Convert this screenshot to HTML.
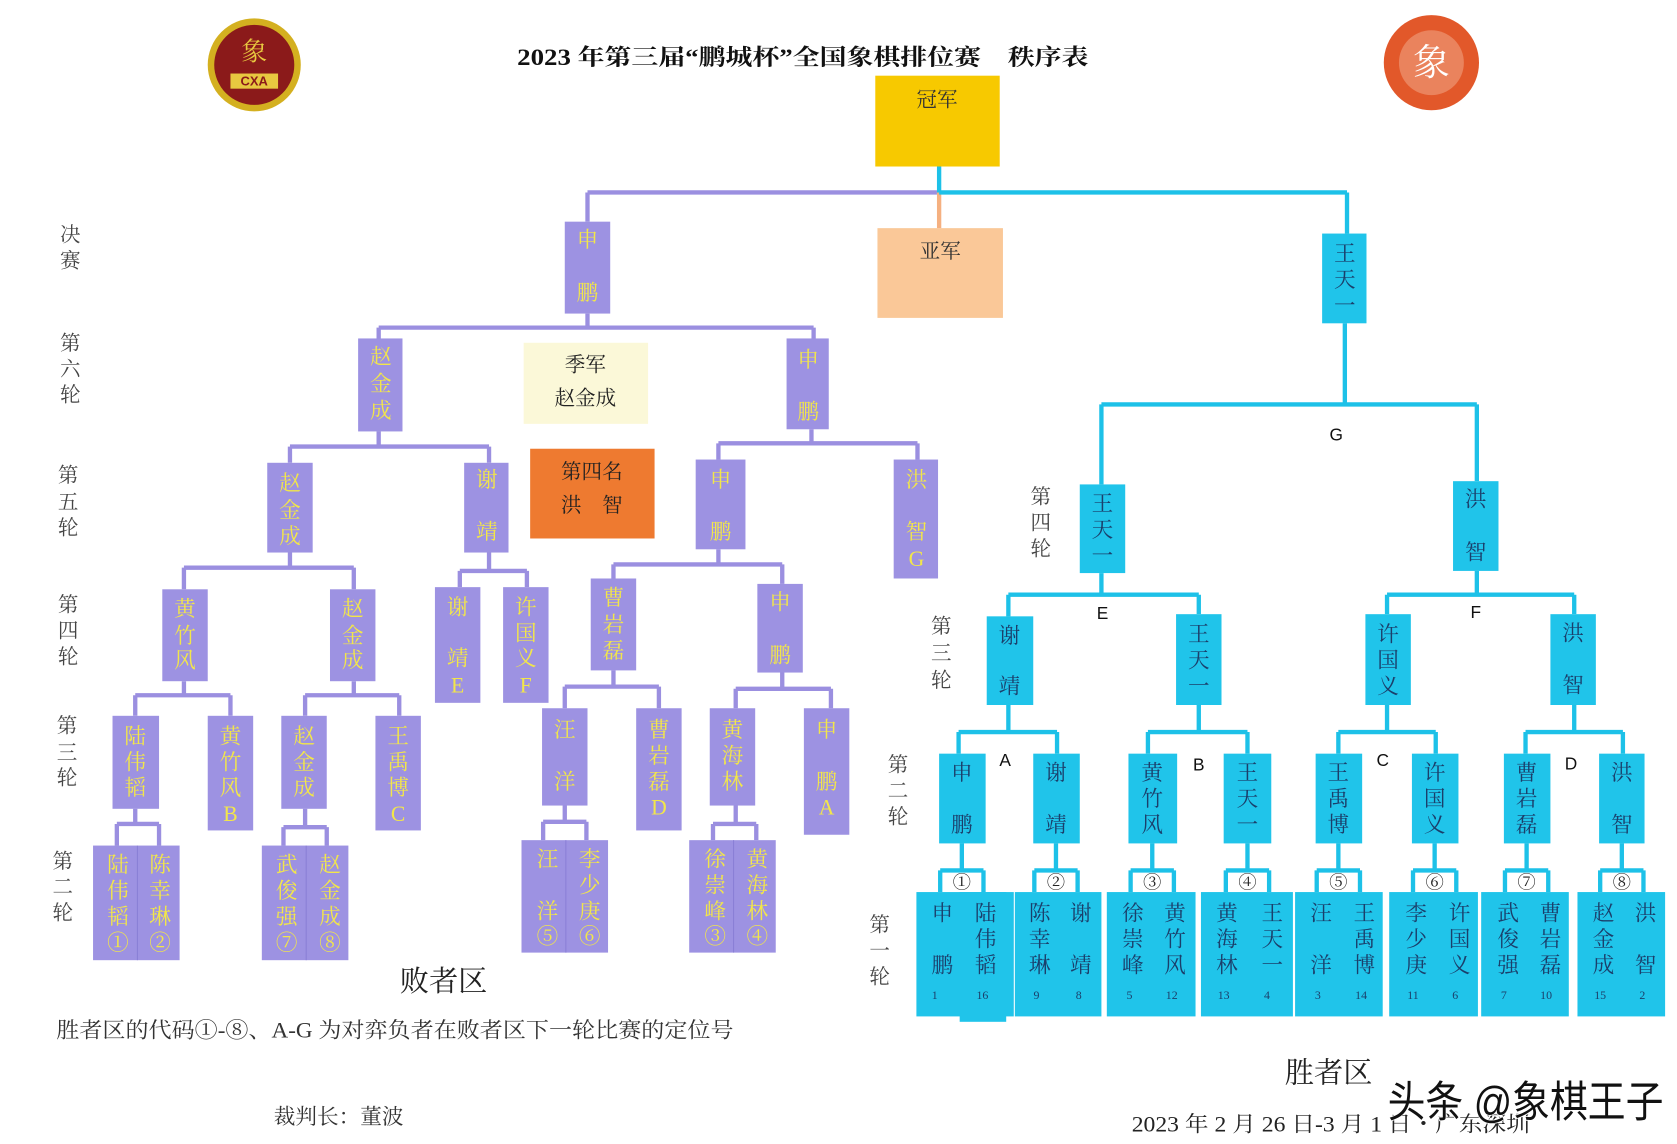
<!DOCTYPE html>
<html><head><meta charset="utf-8"><style>
html,body{margin:0;padding:0;background:#fff;}
svg{display:block}
text{font-family:"Liberation Serif","Noto Serif CJK SC","Noto Sans CJK SC",serif;text-anchor:middle;dominant-baseline:central}
.p{fill:#f2e64a;font-size:20px}
.c{fill:#1b3f6b;font-size:20px}
.n{fill:#1b3f6b;font-size:11px}
.l{fill:#444;font-size:19px}
.k{fill:#111;font-size:16px;font-family:"Liberation Sans","Noto Sans CJK SC",sans-serif}
.pl{stroke:#9b8fe0;stroke-width:4;fill:none}
.cl{stroke:#1dc1e8;stroke-width:4;fill:none}
.pb{fill:#9d92e2}
.cb{fill:#20c4ea}
</style></head><body>
<svg width="1677" height="1144" viewBox="0 0 1550 1058" preserveAspectRatio="none" xmlns="http://www.w3.org/2000/svg">
<!-- logos -->
<circle cx="235" cy="60" r="43" fill="#d4b020"/>
<circle cx="235" cy="60" r="37" fill="#8b1a1a"/>
<text x="235" y="48" style="fill:#e8c840;font-size:24px">象</text>
<rect x="213" y="68" width="44" height="14" fill="#e8c840"/>
<text x="235" y="75" style="fill:#8b1a1a;font-size:12px;font-family:'Liberation Sans',sans-serif;font-weight:bold">CXA</text>
<circle cx="1323" cy="58" r="44" fill="#e2582a"/>
<circle cx="1323" cy="58" r="30" fill="#f0a080" opacity="0.6"/>
<text x="1323" y="58" style="fill:#fff;font-size:34px">象</text>
<text x="742" y="53" textLength="528" lengthAdjust="spacingAndGlyphs" style="font-size:21px;font-weight:bold;fill:#111">2023 年第三届“鹏城杯”全国象棋排位赛　秩序表</text>

<!-- top boxes -->
<rect x="809" y="70" width="115" height="84" fill="#f7c900"/>
<text x="866" y="93" style="font-size:19px;fill:#333">冠军</text>
<rect x="811" y="211" width="116" height="83" fill="#fac898"/>
<text x="869" y="233" style="font-size:19px;fill:#333">亚军</text>
<rect x="484" y="317" width="115" height="75" fill="#fbf8d8"/>
<text x="541" y="338" style="font-size:19px;fill:#222">季军</text>
<text x="541" y="369" style="font-size:19px;fill:#222">赵金成</text>
<rect x="490" y="415" width="115" height="83" fill="#ee7a30"/>
<text x="547" y="437" style="font-size:19px;fill:#222">第四名</text>
<text x="547" y="468" style="font-size:19px;fill:#222">洪　智</text>

<!-- purple lines -->
<path class="pl" d="M543 178H866M543 178V205M543 290V303M350 303H752M350 303V313M752 303V313
M350 399V413M268 413H452M268 413V428M452 413V428M750 397V410M664 410H848M664 410V425M848 410V425
M268 511V525M170 525H327M170 525V545M327 525V545M452 511V528M425 528H487M425 528V543M487 528V543
M664 508V522M567 522H723M567 522V535M723 522V540
M170 630V643M125 643H213M125 643V662M213 643V662M327 630V643M282 643H369M282 643V662M369 643V662
M567 620V635M522 635H609M522 635V655M609 635V655M723 622V637M680 637H768M680 637V655M768 637V655
M125 748V762M108 762H147M108 762V782M147 762V782M282 748V765M262 765H302M262 765V782M302 765V782
M522 745V760M502 760H542M502 760V777M542 760V777M680 745V762M659 762H699M659 762V777M699 762V777"/>
<path d="M868 178V211" stroke="#f5b080" stroke-width="4"/>
<!-- cyan lines -->
<path class="cl" d="M868 154V178M868 178H1245M1245 178V216M1243 299V374M1018 374H1365M1018 374V448M1365 374V445
M1018 530V550M932 550H1108M932 550V570M1108 550V568M1365 528V550M1282 550H1455M1282 550V568M1455 550V568
M932 652V677M886 677H977M886 677V697M977 677V697M1108 652V677M1061 677H1153M1061 677V697M1153 677V697
M1282 652V677M1237 677H1327M1237 677V697M1327 677V697M1455 652V677M1410 677H1500M1410 677V697M1500 677V697
M889 780V805M869 805H909M869 805V825M909 805V825
M976 780V805M956 805H996M956 805V825M996 805V825
M1065 780V805M1045 805H1085M1045 805V825M1085 805V825
M1153 780V805M1133 805H1173M1133 805V825M1173 805V825
M1237 780V805M1217 805H1257M1217 805V825M1257 805V825
M1326 780V805M1306 805H1346M1306 805V825M1346 805V825
M1411 780V805M1391 805H1431M1391 805V825M1431 805V825
M1499 780V805M1479 805H1519M1479 805V825M1519 805V825"/>
<g style="fill:#222">
<text x="889" y="816" style="font-size:17px">①</text><text x="976" y="816" style="font-size:17px">②</text>
<text x="1065" y="816" style="font-size:17px">③</text><text x="1153" y="816" style="font-size:17px">④</text>
<text x="1237" y="816" style="font-size:17px">⑤</text><text x="1326" y="816" style="font-size:17px">⑥</text>
<text x="1411" y="816" style="font-size:17px">⑦</text><text x="1499" y="816" style="font-size:17px">⑧</text>
</g>

<!-- purple boxes -->
<rect class="pb" x="522" y="205" width="42" height="85"/><text class="p" x="543" y="222">申</text><text class="p" x="543" y="271">鹏</text>
<rect class="pb" x="331" y="313" width="41" height="86"/><text class="p" x="352" y="330">赵</text><text class="p" x="352" y="355">金</text><text class="p" x="352" y="380">成</text>
<rect class="pb" x="727" y="313" width="39" height="84"/><text class="p" x="747" y="333">申</text><text class="p" x="747" y="381">鹏</text>
<rect class="pb" x="247" y="428" width="42" height="83"/><text class="p" x="268" y="447">赵</text><text class="p" x="268" y="472">金</text><text class="p" x="268" y="496">成</text>
<rect class="pb" x="429" y="428" width="41" height="83"/><text class="p" x="450" y="444">谢</text><text class="p" x="450" y="492">靖</text>
<rect class="pb" x="643" y="425" width="46" height="83"/><text class="p" x="666" y="444">申</text><text class="p" x="666" y="492">鹏</text>
<rect class="pb" x="826" y="425" width="41" height="110"/><text class="p" x="847" y="444">洪</text><text class="p" x="847" y="492">智</text><text class="p" x="847" y="517">G</text>
<rect class="pb" x="150" y="545" width="42" height="85"/><text class="p" x="171" y="563">黄</text><text class="p" x="171" y="588">竹</text><text class="p" x="171" y="611">风</text>
<rect class="pb" x="305" y="545" width="42" height="85"/><text class="p" x="326" y="563">赵</text><text class="p" x="326" y="588">金</text><text class="p" x="326" y="611">成</text>
<rect class="pb" x="402" y="543" width="42" height="107"/><text class="p" x="423" y="562">谢</text><text class="p" x="423" y="609">靖</text><text class="p" x="423" y="634">E</text>
<rect class="pb" x="465" y="543" width="42" height="107"/><text class="p" x="486" y="562">许</text><text class="p" x="486" y="586">国</text><text class="p" x="486" y="609">义</text><text class="p" x="486" y="634">F</text>
<rect class="pb" x="546" y="535" width="42" height="85"/><text class="p" x="567" y="553">曹</text><text class="p" x="567" y="578">岩</text><text class="p" x="567" y="602">磊</text>
<rect class="pb" x="700" y="540" width="42" height="82"/><text class="p" x="721" y="557">申</text><text class="p" x="721" y="606">鹏</text>
<rect class="pb" x="104" y="662" width="43" height="86"/><text class="p" x="125" y="681">陆</text><text class="p" x="125" y="705">伟</text><text class="p" x="125" y="729">韬</text>
<rect class="pb" x="192" y="662" width="42" height="106"/><text class="p" x="213" y="681">黄</text><text class="p" x="213" y="705">竹</text><text class="p" x="213" y="729">风</text><text class="p" x="213" y="753">B</text>
<rect class="pb" x="260" y="662" width="42" height="86"/><text class="p" x="281" y="681">赵</text><text class="p" x="281" y="705">金</text><text class="p" x="281" y="729">成</text>
<rect class="pb" x="347" y="662" width="42" height="106"/><text class="p" x="368" y="681">王</text><text class="p" x="368" y="705">禹</text><text class="p" x="368" y="729">博</text><text class="p" x="368" y="753">C</text>
<rect class="pb" x="501" y="655" width="42" height="90"/><text class="p" x="522" y="675">汪</text><text class="p" x="522" y="723">洋</text>
<rect class="pb" x="588" y="655" width="42" height="113"/><text class="p" x="609" y="675">曹</text><text class="p" x="609" y="699">岩</text><text class="p" x="609" y="723">磊</text><text class="p" x="609" y="747">D</text>
<rect class="pb" x="656" y="655" width="42" height="90"/><text class="p" x="677" y="675">黄</text><text class="p" x="677" y="699">海</text><text class="p" x="677" y="723">林</text>
<rect class="pb" x="743" y="655" width="42" height="117"/><text class="p" x="764" y="675">申</text><text class="p" x="764" y="723">鹏</text><text class="p" x="764" y="747">A</text>
<!-- purple pairs -->
<rect class="pb" x="86" y="782" width="80" height="106"/><line x1="127" y1="782" x2="127" y2="888" stroke="#8a7fd6" stroke-width="1"/>
<text class="p" x="109" y="800">陆</text><text class="p" x="109" y="824">伟</text><text class="p" x="109" y="848">韬</text><text class="p" x="109" y="872">①</text>
<text class="p" x="148" y="800">陈</text><text class="p" x="148" y="824">幸</text><text class="p" x="148" y="848">琳</text><text class="p" x="148" y="872">②</text>
<rect class="pb" x="242" y="782" width="80" height="106"/><line x1="283" y1="782" x2="283" y2="888" stroke="#8a7fd6" stroke-width="1"/>
<text class="p" x="265" y="800">武</text><text class="p" x="265" y="824">俊</text><text class="p" x="265" y="848">强</text><text class="p" x="265" y="872">⑦</text>
<text class="p" x="305" y="800">赵</text><text class="p" x="305" y="824">金</text><text class="p" x="305" y="848">成</text><text class="p" x="305" y="872">⑧</text>
<rect class="pb" x="482" y="777" width="80" height="104"/><line x1="523" y1="777" x2="523" y2="881" stroke="#8a7fd6" stroke-width="1"/>
<text class="p" x="506" y="795">汪</text><text class="p" x="506" y="843">洋</text><text class="p" x="506" y="866">⑤</text>
<text class="p" x="545" y="795">李</text><text class="p" x="545" y="819">少</text><text class="p" x="545" y="843">庚</text><text class="p" x="545" y="866">⑥</text>
<rect class="pb" x="637" y="777" width="80" height="104"/><line x1="678" y1="777" x2="678" y2="881" stroke="#8a7fd6" stroke-width="1"/>
<text class="p" x="661" y="795">徐</text><text class="p" x="661" y="819">崇</text><text class="p" x="661" y="843">峰</text><text class="p" x="661" y="866">③</text>
<text class="p" x="700" y="795">黄</text><text class="p" x="700" y="819">海</text><text class="p" x="700" y="843">林</text><text class="p" x="700" y="866">④</text>

<!-- cyan boxes -->
<rect class="cb" x="1222" y="216" width="41" height="83"/><text class="c" x="1243" y="235">王</text><text class="c" x="1243" y="259">天</text><text class="c" x="1243" y="283">一</text>
<rect class="cb" x="998" y="448" width="42" height="82"/><text class="c" x="1019" y="466">王</text><text class="c" x="1019" y="490">天</text><text class="c" x="1019" y="514">一</text>
<rect class="cb" x="1343" y="445" width="42" height="83"/><text class="c" x="1364" y="462">洪</text><text class="c" x="1364" y="511">智</text>
<rect class="cb" x="912" y="570" width="43" height="82"/><text class="c" x="933" y="588">谢</text><text class="c" x="933" y="635">靖</text>
<rect class="cb" x="1087" y="568" width="42" height="84"/><text class="c" x="1108" y="587">王</text><text class="c" x="1108" y="611">天</text><text class="c" x="1108" y="635">一</text>
<rect class="cb" x="1262" y="568" width="42" height="84"/><text class="c" x="1283" y="587">许</text><text class="c" x="1283" y="611">国</text><text class="c" x="1283" y="635">义</text>
<rect class="cb" x="1433" y="568" width="42" height="84"/><text class="c" x="1454" y="586">洪</text><text class="c" x="1454" y="634">智</text>
<rect class="cb" x="868" y="697" width="43" height="83"/><text class="c" x="889" y="715">申</text><text class="c" x="889" y="763">鹏</text>
<rect class="cb" x="955" y="697" width="43" height="83"/><text class="c" x="976" y="715">谢</text><text class="c" x="976" y="763">靖</text>
<rect class="cb" x="1043" y="697" width="45" height="83"/><text class="c" x="1065" y="715">黄</text><text class="c" x="1065" y="739">竹</text><text class="c" x="1065" y="763">风</text>
<rect class="cb" x="1131" y="697" width="44" height="83"/><text class="c" x="1153" y="715">王</text><text class="c" x="1153" y="739">天</text><text class="c" x="1153" y="763">一</text>
<rect class="cb" x="1216" y="697" width="43" height="83"/><text class="c" x="1237" y="715">王</text><text class="c" x="1237" y="739">禹</text><text class="c" x="1237" y="763">博</text>
<rect class="cb" x="1305" y="697" width="43" height="83"/><text class="c" x="1326" y="715">许</text><text class="c" x="1326" y="739">国</text><text class="c" x="1326" y="763">义</text>
<rect class="cb" x="1390" y="697" width="43" height="83"/><text class="c" x="1411" y="715">曹</text><text class="c" x="1411" y="739">岩</text><text class="c" x="1411" y="763">磊</text>
<rect class="cb" x="1478" y="697" width="42" height="83"/><text class="c" x="1499" y="715">洪</text><text class="c" x="1499" y="763">智</text>
<!-- cyan pairs -->
<rect class="cb" x="847" y="825" width="90" height="115"/><rect class="cb" x="887" y="825" width="43" height="120"/>
<text class="c" x="871" y="845">申</text><text class="c" x="871" y="893">鹏</text><text class="n" x="864" y="920">1</text>
<text class="c" x="911" y="845">陆</text><text class="c" x="911" y="869">伟</text><text class="c" x="911" y="893">韬</text><text class="n" x="908" y="920">16</text>
<rect class="cb" x="938" y="825" width="80" height="115"/>
<text class="c" x="961" y="845">陈</text><text class="c" x="961" y="869">幸</text><text class="c" x="961" y="893">琳</text><text class="n" x="958" y="920">9</text>
<text class="c" x="999" y="845">谢</text><text class="c" x="999" y="893">靖</text><text class="n" x="997" y="920">8</text>
<rect class="cb" x="1023" y="825" width="82" height="115"/>
<text class="c" x="1047" y="845">徐</text><text class="c" x="1047" y="869">崇</text><text class="c" x="1047" y="893">峰</text><text class="n" x="1044" y="920">5</text>
<text class="c" x="1086" y="845">黄</text><text class="c" x="1086" y="869">竹</text><text class="c" x="1086" y="893">风</text><text class="n" x="1083" y="920">12</text>
<rect class="cb" x="1110" y="825" width="85" height="115"/>
<text class="c" x="1134" y="845">黄</text><text class="c" x="1134" y="869">海</text><text class="c" x="1134" y="893">林</text><text class="n" x="1131" y="920">13</text>
<text class="c" x="1176" y="845">王</text><text class="c" x="1176" y="869">天</text><text class="c" x="1176" y="893">一</text><text class="n" x="1171" y="920">4</text>
<rect class="cb" x="1197" y="825" width="81" height="115"/>
<text class="c" x="1221" y="845">汪</text><text class="c" x="1221" y="893">洋</text><text class="n" x="1218" y="920">3</text>
<text class="c" x="1261" y="845">王</text><text class="c" x="1261" y="869">禹</text><text class="c" x="1261" y="893">博</text><text class="n" x="1258" y="920">14</text>
<rect class="cb" x="1284" y="825" width="82" height="115"/>
<text class="c" x="1309" y="845">李</text><text class="c" x="1309" y="869">少</text><text class="c" x="1309" y="893">庚</text><text class="n" x="1306" y="920">11</text>
<text class="c" x="1349" y="845">许</text><text class="c" x="1349" y="869">国</text><text class="c" x="1349" y="893">义</text><text class="n" x="1345" y="920">6</text>
<rect class="cb" x="1369" y="825" width="81" height="115"/>
<text class="c" x="1394" y="845">武</text><text class="c" x="1394" y="869">俊</text><text class="c" x="1394" y="893">强</text><text class="n" x="1390" y="920">7</text>
<text class="c" x="1433" y="845">曹</text><text class="c" x="1433" y="869">岩</text><text class="c" x="1433" y="893">磊</text><text class="n" x="1429" y="920">10</text>
<rect class="cb" x="1458" y="825" width="81" height="115"/>
<text class="c" x="1482" y="845">赵</text><text class="c" x="1482" y="869">金</text><text class="c" x="1482" y="893">成</text><text class="n" x="1479" y="920">15</text>
<text class="c" x="1521" y="845">洪</text><text class="c" x="1521" y="893">智</text><text class="n" x="1518" y="920">2</text>

<!-- letters -->
<text class="k" x="1235" y="402">G</text><text class="k" x="1019" y="567">E</text><text class="k" x="1364" y="566">F</text>
<text class="k" x="929" y="703">A</text><text class="k" x="1108" y="707">B</text><text class="k" x="1278" y="703">C</text><text class="k" x="1452" y="706">D</text>

<!-- round labels -->
<text class="l" x="65" y="218">决</text><text class="l" x="65" y="242">赛</text>
<text class="l" x="65" y="318">第</text><text class="l" x="65" y="342">六</text><text class="l" x="65" y="366">轮</text>
<text class="l" x="63" y="440">第</text><text class="l" x="63" y="465">五</text><text class="l" x="63" y="489">轮</text>
<text class="l" x="63" y="560">第</text><text class="l" x="63" y="584">四</text><text class="l" x="63" y="608">轮</text>
<text class="l" x="62" y="672">第</text><text class="l" x="62" y="697">三</text><text class="l" x="62" y="720">轮</text>
<text class="l" x="58" y="797">第</text><text class="l" x="58" y="821">二</text><text class="l" x="58" y="845">轮</text>
<text class="l" x="962" y="460">第</text><text class="l" x="962" y="484">四</text><text class="l" x="962" y="508">轮</text>
<text class="l" x="870" y="580">第</text><text class="l" x="870" y="605">三</text><text class="l" x="870" y="630">轮</text>
<text class="l" x="830" y="708">第</text><text class="l" x="830" y="732">二</text><text class="l" x="830" y="756">轮</text>
<text class="l" x="813" y="856">第</text><text class="l" x="813" y="880">一</text><text class="l" x="813" y="904">轮</text>

<text x="410" y="908" style="font-size:27px;fill:#222">败者区</text>
<text x="365" y="953" textLength="626" lengthAdjust="spacingAndGlyphs" style="font-size:20px;fill:#333">胜者区的代码①-⑧、A-G 为对弈负者在败者区下一轮比赛的定位号</text>
<text x="313" y="1033" style="font-size:20px;fill:#333">裁判长：董波</text>
<text x="1228" y="993" style="font-size:27px;fill:#222">胜者区</text>
<text x="1230" y="1040" textLength="368" lengthAdjust="spacingAndGlyphs" style="font-size:20px;fill:#222">2023 年 2 月 26 日-3 月 1 日・广东深圳</text>
<text x="1410" y="1020" textLength="255" lengthAdjust="spacingAndGlyphs" style="font-size:40px;fill:#111;stroke:#fff;stroke-width:1.5;paint-order:stroke;font-family:'Liberation Sans','Noto Sans CJK SC',sans-serif">头条 @象棋王子</text>
</svg>
</body></html>
